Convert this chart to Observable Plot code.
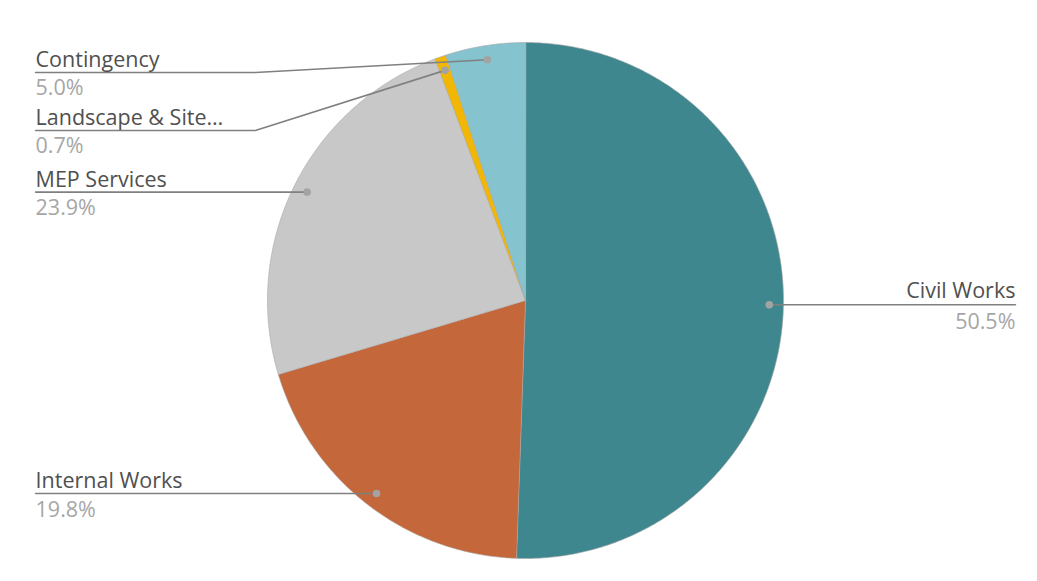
<!DOCTYPE html>
<html>
<head>
<meta charset="utf-8">
<script src="https://cdn.jsdelivr.net/npm/d3@7"></script>
<script src="https://cdn.jsdelivr.net/npm/@observablehq/plot@0.6"></script>
<style>
  html, body { margin: 0; padding: 0; background: #fff; }
  #chart svg { display: block; }
</style>
</head>
<body>
<div id="chart"></div>
<script>
// ---- data ----
const categories = ["Civil Works", "Internal Works", "MEP Services", "Landscape & Site…", "Contingency"];
const shares = [50.5, 19.8, 23.9, 0.7, 5.0];
const percentLabels = ["50.5%", "19.8%", "23.9%", "0.7%", "5.0%"];
const colors = ["#3f878f", "#c4673a", "#c8c8c8", "#f2b705", "#85c3cf"];

// ---- layout (not data) ----
const W = 1037, H = 581;
const cx = 525, cy = 300, R = 258;           // pixel center and radius
const labelSide = ["right", "left", "left", "left", "left"];
const labelLineY = [null, null, null, 0.659, 0.884]; // override line height (unit = radius)
const elbowX = -1.047;
const labelX = 1.899;
const dotR = 0.945;

const total = d3.sum(shares);
let acc = 0;
const slices = categories.map((name, i) => {
  const a0 = acc / total * 2 * Math.PI;
  acc += shares[i];
  const a1 = acc / total * 2 * Math.PI;
  return {name, a0, a1, mid: (a0 + a1) / 2, i};
});

// polygon points for each slice (angle clockwise from top)
const piePts = [];
for (const s of slices) {
  piePts.push({name: s.name, x: 0, y: 0});
  const n = Math.max(2, Math.ceil((s.a1 - s.a0) / (Math.PI / 360)));
  for (let k = 0; k <= n; k++) {
    const a = s.a0 + (s.a1 - s.a0) * k / n;
    piePts.push({name: s.name, x: Math.sin(a), y: Math.cos(a)});
  }
}

const dots = slices.map(s => ({name: s.name, x: dotR * Math.sin(s.mid), y: dotR * Math.cos(s.mid)}));

const leaders = [];
const labels = [];
slices.forEach((s, i) => {
  const d = dots[i];
  const ly = labelLineY[i] ?? d.y;
  const lx = labelSide[i] === "right" ? labelX : -labelX;
  leaders.push({name: s.name, x: lx, y: ly});
  if (labelLineY[i] != null) leaders.push({name: s.name, x: elbowX, y: ly});
  leaders.push({name: s.name, x: d.x, y: d.y});
  labels.push({name: s.name, pct: percentLabels[i], x: lx, y: ly, anchor: labelSide[i] === "right" ? "end" : "start"});
});

const font = "'Open Sans', 'Noto Sans', sans-serif";
const fs = 21.5;
const fsPct = 21.5;

const chart = Plot.plot({
  width: W,
  height: H,
  margin: 0,
  x: {domain: [-cx / R, (W - cx) / R], axis: null},
  y: {domain: [(cy - H) / R, cy / R], axis: null},
  color: {domain: categories, range: colors},
  marks: [
    Plot.line(piePts, {x: "x", y: "y", z: "name", fill: "name", stroke: "#a8a8a8", strokeWidth: 0.6, curve: "linear-closed"}),
    Plot.line(leaders, {x: "x", y: "y", z: "name", stroke: "#808080", strokeWidth: 1.6}),
    Plot.dot(dots, {x: "x", y: "y", r: 3.8, fill: "#a3a3a3", stroke: "none"}),
    Plot.text(labels.filter(d => d.anchor === "start"), {x: "x", y: "y", text: "name", textAnchor: "start", lineAnchor: "bottom", dy: -5.5, fill: "#505050", fontSize: fs, fontFamily: font}),
    Plot.text(labels.filter(d => d.anchor === "end"), {x: "x", y: "y", text: "name", textAnchor: "end", lineAnchor: "bottom", dy: -7, fill: "#505050", fontSize: fs, fontFamily: font}),
    Plot.text(labels.filter(d => d.anchor === "start"), {x: "x", y: "y", text: "pct", textAnchor: "start", lineAnchor: "bottom", dy: 23, fill: "#a6a6a6", fontSize: fsPct, fontFamily: font}),
    Plot.text(labels.filter(d => d.anchor === "end"), {x: "x", y: "y", text: "pct", textAnchor: "end", lineAnchor: "bottom", dy: 24, fill: "#a6a6a6", fontSize: fsPct, fontFamily: font})
  ]
});
document.getElementById("chart").appendChild(chart);
</script>
</body>
</html>
